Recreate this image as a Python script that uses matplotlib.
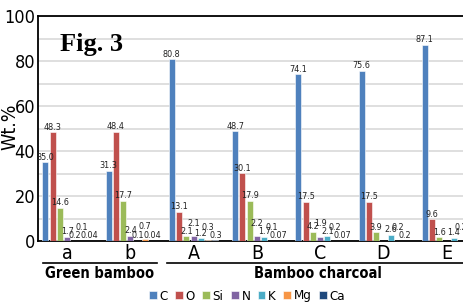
import matplotlib
matplotlib.use("Agg")
import matplotlib.pyplot as plt
import numpy as np
from matplotlib.lines import Line2D
from matplotlib import font_manager

names = {f.name for f in font_manager.fontManager.ttflist}
if "Liberation Sans Narrow" in names:
    plt.rcParams['font.family'] = ['Liberation Sans Narrow', 'DejaVu Sans']
else:
    plt.rcParams['font.family'] = ['DejaVu Sans']
    plt.rcParams['font.stretch'] = 'condensed'

samples = ["a", "b", "A", "B", "C", "D", "E"]
elements = ["C", "O", "Si", "N", "K", "Mg", "Ca"]
colors = ["#4F81BD", "#C0504D", "#9BBB59", "#8064A2", "#4BACC6", "#F79646", "#1F497D"]

# wt.% per element, one list per sample (None = not detected)
wt_a = [35.0, 48.3, 14.6, 1.7, 0.2, 0.1, 0.04]
wt_b = [31.3, 48.4, 17.7, 2.4, 0.1, 0.7, 0.04]
wt_A = [80.8, 13.1, 2.1, 2.1, 1.2, 0.3, 0.3]
wt_B = [48.7, 30.1, 17.9, 2.2, 1.7, 0.1, 0.07]
wt_C = [74.1, 17.5, 4.2, 1.9, 2.1, 0.2, 0.07]
wt_D = [75.6, 17.5, 3.9, None, 2.6, 0.2, 0.2]
wt_E = [87.1, 9.6, 1.6, None, 1.4, 0.2, 0.2]
wt_labels = ["35.0", "48.3", "14.6", "1.7", "0.2", "0.1", "0.04",
             "31.3", "48.4", "17.7", "2.4", "0.1", "0.7", "0.04",
             "80.8", "13.1", "2.1", "2.1", "1.2", "0.3", "0.3",
             "48.7", "30.1", "17.9", "2.2", "1.7", "0.1", "0.07",
             "74.1", "17.5", "4.2", "1.9", "2.1", "0.2", "0.07",
             "75.6", "17.5", "3.9", "", "2.6", "0.2", "0.2",
             "87.1", "9.6", "1.6", "", "1.4", "0.2", "0.2"]

data = [wt_a, wt_b, wt_A, wt_B, wt_C, wt_D, wt_E]

fig = plt.figure(figsize=(4.64, 3.03), dpi=100)
W, H = 464, 303
# axes runs past the right edge, as in the cropped original
ax = fig.add_axes([38 / W, 1 - 241 / H, 453 / W, 225 / H])

x = np.arange(len(samples))
pitch = 0.115
bw = 0.095
for j, el in enumerate(elements):
    vals = [d[j] if d[j] is not None else 0 for d in data]
    pos = x + (j - 3) * pitch
    ax.bar(pos, vals, bw, color=colors[j], edgecolor="white", linewidth=0.4,
           label=el, zorder=3)
    for i in range(len(samples)):
        lab = wt_labels[i * 7 + j]
        if not lab:
            continue
        dy = 0.5
        if el == "Mg" or (el == "N" and i >= 2):
            dy = 6
        ax.annotate(lab, (pos[i], vals[i]), xytext=(0, dy), textcoords="offset points",
                    ha="center", va="bottom", fontsize=6.5, color="#222222", zorder=4)

ax.set_xlim(-0.46, 6.7)
ax.set_ylim(0, 100)
ax.set_yticks(range(0, 101, 20))
ax.set_yticks(range(0, 101, 10), minor=True)
ax.grid(axis="y", which="both", color="#D9D9D9", linewidth=1.2, zorder=0)
ax.tick_params(axis="y", length=0, which="both", labelsize=13, pad=2)
ax.tick_params(axis="x", length=0, labelsize=14, pad=2)
ax.set_xticks(x)
ax.set_xticklabels(samples)
for s in ax.spines.values():
    s.set_linewidth(1.3)

fig.text(10 / W, 1 - 127 / H, "Wt.%", fontsize=14, rotation=90,
         ha="center", va="center")
fig.text(92 / W, 1 - 45 / H, "Fig. 3", fontsize=19, fontweight="bold",
         family="Liberation Serif", ha="center", va="center")

# group brackets
fig.add_artist(Line2D([43 / W, 157 / W], [1 - 263 / H] * 2, color="black", lw=1.2))
fig.add_artist(Line2D([167 / W, 1.0], [1 - 263 / H] * 2, color="black", lw=1.2))
fig.text(100 / W, 1 - 273 / H, "Green bamboo", fontsize=10.5, fontweight="bold",
         ha="center", va="center")
fig.text(318 / W, 1 - 273 / H, "Bamboo charcoal", fontsize=10.5, fontweight="bold",
         ha="center", va="center")

fig.legend(loc="center", bbox_to_anchor=(247 / W, 1 - 296 / H), ncol=7, frameon=False,
           fontsize=9.5, handlelength=0.6, handleheight=0.6, handletextpad=0.2,
           columnspacing=0.55, borderpad=0)

fig.savefig("out.png", dpi=100)
